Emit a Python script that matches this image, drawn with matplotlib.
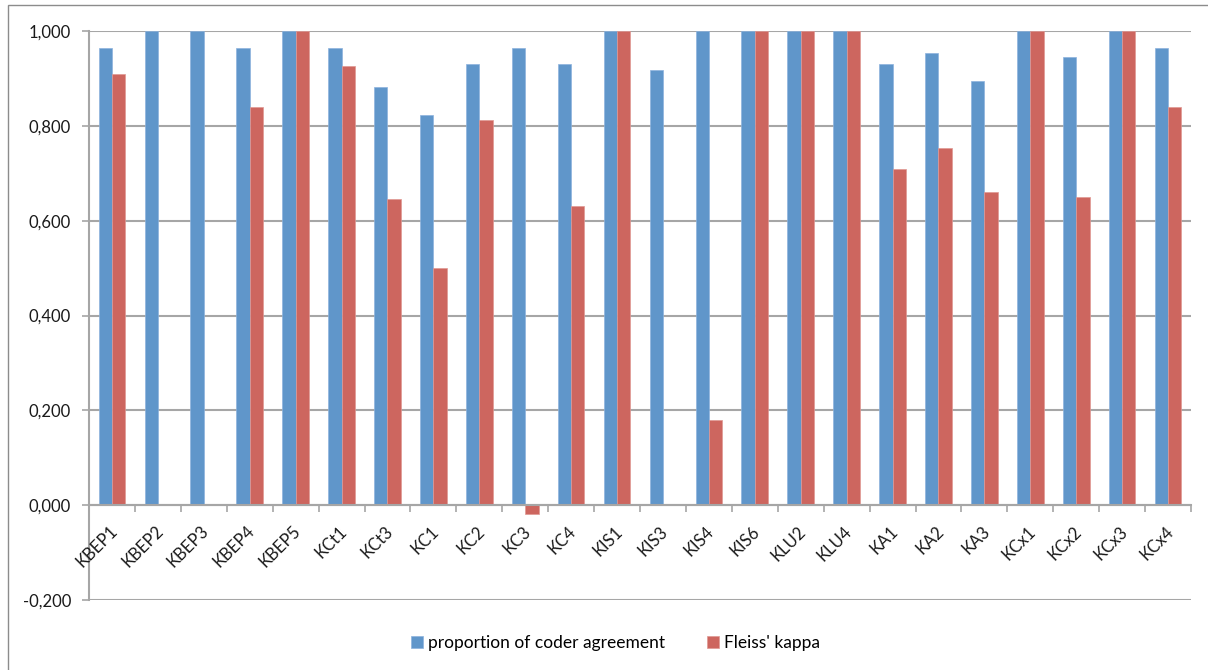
import numpy as np
import matplotlib
matplotlib.use('Agg')
import matplotlib.pyplot as plt
from matplotlib.patches import Rectangle
from matplotlib.ticker import FuncFormatter, FixedLocator, NullFormatter
from matplotlib.transforms import offset_copy

plt.rcParams['font.family'] = ['Lato', 'DejaVu Sans']

BLUE = '#6096CA'; RED = '#CD665F'; GRID = '#A6A6A6'; TXT = '#1A1A1A'

categories = ['KBEP1', 'KBEP2', 'KBEP3', 'KBEP4', 'KBEP5', 'KCt1', 'KCt3', 'KC1',
              'KC2', 'KC3', 'KC4', 'KIS1', 'KIS3', 'KIS4', 'KIS6', 'KLU2', 'KLU4',
              'KA1', 'KA2', 'KA3', 'KCx1', 'KCx2', 'KCx3', 'KCx4']
agreement = [0.965, 1.0, 1.0, 0.965, 1.0, 0.965, 0.882, 0.823,
             0.930, 0.965, 0.930, 1.0, 0.918, 1.0, 1.0, 1.0, 1.0,
             0.930, 0.953, 0.894, 1.0, 0.946, 1.0, 0.965]
kappa = [0.910, np.nan, np.nan, 0.839, 1.0, 0.926, 0.645, 0.500,
         0.812, -0.018, 0.630, 1.0, np.nan, 0.179, 1.0, 1.0, 1.0,
         0.709, 0.753, 0.661, 1.0, 0.650, 1.0, 0.839]
yticks = [-0.2, 0.0, 0.2, 0.4, 0.6, 0.8, 1.0]

fig = plt.figure(figsize=(12.08, 6.70), dpi=100)
ax = fig.add_axes([89/1208, 1-600/670, (1191-89)/1208, (600-31)/670])

x = np.arange(len(categories))
w = 0.29
ax.bar(x - w/2, agreement, w, color=BLUE, edgecolor='#8DB3DD', lw=0.5,
       label='proportion of coder agreement', zorder=3)
ax.bar(x + w/2, kappa, w, color=RED, edgecolor='#E09994', lw=0.5,
       label="Fleiss' kappa", zorder=3)

ax.set_xlim(-0.5, len(categories) - 0.5)
ax.set_ylim(-0.2, 1.0)
ax.set_yticks(yticks)
ax.yaxis.set_major_formatter(FuncFormatter(lambda v, p: f'{v:.3f}'.replace('.', ',')))
ax.tick_params(axis='y', length=5, width=1.2, color=GRID, pad=8, labelsize=12, labelcolor=TXT)
ax.grid(axis='y', color=GRID, lw=1.5, zorder=0)

for s in ('top', 'right'):
    ax.spines[s].set_visible(False)
ax.spines['left'].set_color(GRID); ax.spines['left'].set_linewidth(1.5)
ax.spines['bottom'].set_position(('data', 0))
ax.spines['bottom'].set_color(GRID); ax.spines['bottom'].set_linewidth(1.5)
ax.spines['bottom'].set_zorder(4)

# category labels, rotated, hanging under the zero line
ax.set_xticks([])
ax.xaxis.set_minor_locator(FixedLocator(np.arange(-0.5, len(categories), 1.0)))
ax.xaxis.set_minor_formatter(NullFormatter())
ax.tick_params(axis='x', which='minor', length=5, width=1.2, color=GRID, direction='out')
lab_tr = offset_copy(ax.transData, fig=fig, x=-3, y=-18, units='dots')
for i, c in enumerate(categories):
    ax.text(i, 0, c, transform=lab_tr, rotation=45, ha='right', va='top',
            rotation_mode='anchor', fontsize=12, color=TXT)

fig.legend(loc='center', bbox_to_anchor=(0.5095, 1-643/670), ncol=2, frameon=False,
           handlelength=0.7, handleheight=0.7, handletextpad=0.3, columnspacing=2.4,
           fontsize=12.5)

fig.patches.append(Rectangle((8/1208, -0.1), 1.2, 1.1 - 5/670, transform=fig.transFigure,
                             fill=False, ec='#8C8C8C', lw=1.0))

fig.savefig('out.png', dpi=100)
